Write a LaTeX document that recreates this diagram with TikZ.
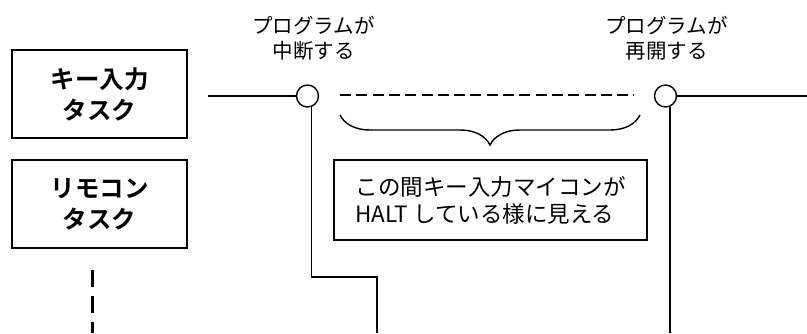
\documentclass[tikz,border=0pt]{standalone}
\usepackage{fontspec}
\setmainfont{Noto Sans CJK JP}[BoldFont={Noto Sans CJK JP Bold}]
\usetikzlibrary{decorations.pathreplacing}
\begin{document}
\begin{tikzpicture}[x=1pt,y=-1pt,
  wire/.style={line width=1.4pt},
  taskbox/.style={draw,line width=1.5pt,minimum width=175pt,minimum height=88pt,align=center,
    font=\fontsize{24.5}{31}\selectfont\bfseries,inner sep=0pt},
  joint/.style={draw,circle,line width=1.4pt,minimum size=22pt,inner sep=0pt,fill=white},
  evlabel/.style={align=center,font=\fontsize{20.5}{25}\selectfont,inner sep=0pt},
  notebox/.style={draw,line width=1.4pt,minimum width=313pt,minimum height=80pt,align=left,
    font=\fontsize{22.5}{27}\selectfont,inner sep=0pt},
  bracestyle/.style={line width=1.4pt,decorate,decoration={brace,mirror,amplitude=30pt}}]
\useasboundingbox (0,0) rectangle (807,333);
% task boxes
\node[taskbox] (key) at (99.5,94) {キー入力\\タスク};
\node[taskbox] (remo) at (99.5,204) {リモコン\\タスク};
\coordinate (d0) at (92,270);
\coordinate (d1) at (92,333);
\draw[line width=3pt,dash pattern=on 17pt off 9pt] (d0) -- (d1);
% event labels
\node[evlabel] (l1) at (313.5,38.5) {プログラムが\\中断する};
\node[evlabel] (l2) at (666.5,38.5) {プログラムが\\再開する};
% joints
\node[joint] (c1) at (307.5,96) {};
\node[joint] (c2) at (665.5,96) {};
\coordinate (h0) at (208,96);
\coordinate (h1) at (807,96);
\draw[wire] (h0) -- (c1.west);
\draw[wire] (c2.east) -- (h1);
\coordinate (g0) at (340,95);
\coordinate (g1) at (634,95);
\draw[wire,dash pattern=on 11pt off 5.3pt] (g0) -- (g1);
\coordinate (k1) at (377,277);
\coordinate (k2) at (377,333);
\draw[wire] (c1.-69) |- (k1) -- (k2);
\coordinate (k3) at (670,333);
\draw[wire] (c2.-67) -- (c2.-67 |- k3);
% brace and note
\coordinate (b0) at (340,115);
\coordinate (b1) at (640,115);
\draw[bracestyle] (b0) -- (b1);
\node[notebox] (note) at (490.5,200) {この間キー入力マイコンが\\HALT している様に見える};
\end{tikzpicture}
\end{document}
